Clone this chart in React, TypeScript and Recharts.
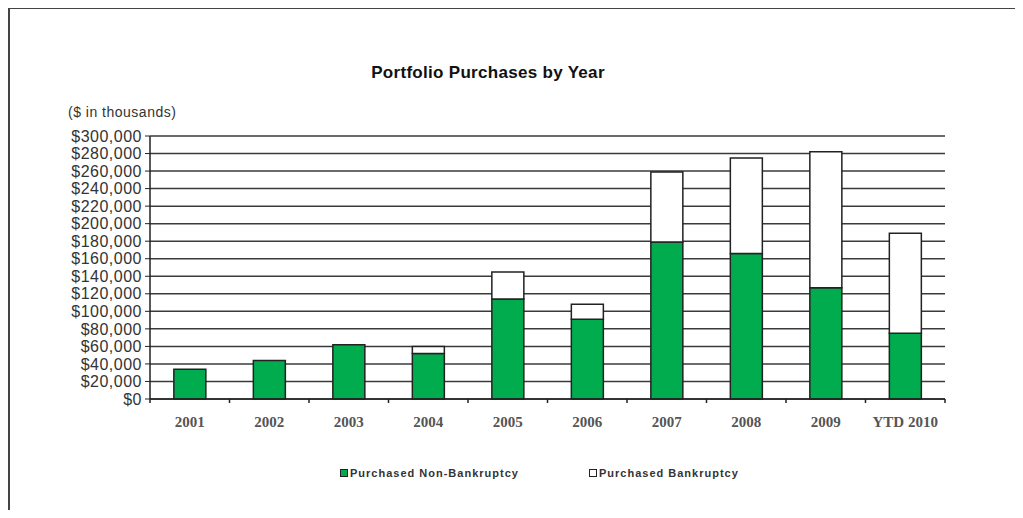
import React from 'react';
import { BarChart, Bar, XAxis, YAxis, CartesianGrid } from 'recharts';

// values in $ thousands
const years = ['2001', '2002', '2003', '2004', '2005', '2006', '2007', '2008', '2009', 'YTD 2010'];
const nonBankruptcy = [34000, 44000, 62000, 52000, 114000, 91000, 179000, 166000, 127000, 75000];
const bankruptcy = [0, 0, 0, 8000, 31000, 17000, 80000, 109000, 155000, 114000];
const yTicks = [0, 20000, 40000, 60000, 80000, 100000, 120000, 140000, 160000, 180000, 200000, 220000, 240000, 260000, 280000, 300000];

const seriesNames = ['Purchased Non-Bankruptcy', 'Purchased Bankruptcy'];
const GREEN = '#00AC4E';
const EDGE = '#222';

const data = years.map((y, i) => ({
  year: y,
  nonBk: nonBankruptcy[i],
  bk: bankruptcy[i],
}));

const fmt = (v: number) => '$' + v.toLocaleString('en-US');

const sans = '"Liberation Sans", Arial, sans-serif';

// category label + tick mark on the band edges (excel style)
const CategoryTick = (props: any) => {
  const { x, y, payload, index } = props;
  const half = payload && payload.offset ? payload.offset : 0;
  return (
    <g>
      <line x1={x - half} x2={x - half} y1={y} y2={y + 4} stroke={EDGE} strokeWidth={1.5} />
      {index === years.length - 1 && (
        <line x1={x + half} x2={x + half} y1={y} y2={y + 4} stroke={EDGE} strokeWidth={1.5} />
      )}
      <text
        x={x}
        y={y + 17}
        dy="0.71em"
        textAnchor="middle"
        fontFamily='"Liberation Serif", "Times New Roman", serif'
        fontSize={15}
        fontWeight="bold"
        fill="#555"
      >
        {payload.value}
      </text>
    </g>
  );
};

export default function App() {
  return (
    <div style={{ position: 'relative', width: 1007, height: 502, fontFamily: sans }}>
      <div
        style={{
          position: 'absolute',
          left: 0,
          top: -1,
          right: 0,
          bottom: 0,
          borderLeft: '2px solid #444',
          borderTop: '2px solid #444',
        }}
      />
      <div
        style={{
          position: 'absolute',
          left: 480,
          top: 55,
          transform: 'translateX(-50%)',
          fontSize: 17,
          fontWeight: 'bold',
          color: '#111',
          whiteSpace: 'nowrap',
          letterSpacing: 0.3,
        }}
      >
        Portfolio Purchases by Year
      </div>
      <div style={{ position: 'absolute', left: 60, top: 96, fontSize: 14, color: '#333', whiteSpace: 'nowrap', letterSpacing: 0.5 }}>
        ($ in thousands)
      </div>

      <BarChart
        width={1007}
        height={502}
        data={data}
        margin={{ top: 128, right: 70, bottom: 81, left: 62 }}
        barCategoryGap="30%"
      >
        <CartesianGrid vertical={false} stroke="#3a3a3a" strokeWidth={1.5} />
        <XAxis
          dataKey="year"
          height={30}
          axisLine={{ stroke: EDGE, strokeWidth: 1.5 }}
          tickLine={false}
          tickSize={0}
          tickMargin={0}
          interval={0}
          tick={<CategoryTick />}
        />
        <YAxis
          domain={[0, 300000]}
          ticks={yTicks}
          interval={0}
          width={80}
          tickFormatter={fmt}
          axisLine={{ stroke: EDGE, strokeWidth: 1.5 }}
          tickLine={{ stroke: EDGE }}
          tickSize={5}
          tickMargin={3}
          tick={{ fontSize: 16, fill: '#333', fontFamily: sans, letterSpacing: 0.5 }}
        />
        <YAxis
          yAxisId="right"
          orientation="right"
          domain={[0, 300000]}
          width={0}
          tick={false}
          tickLine={false}
          axisLine={{ stroke: EDGE, strokeWidth: 1.5 }}
        />
        <Bar dataKey="nonBk" name={seriesNames[0]} stackId="a" fill={GREEN} stroke={EDGE} strokeWidth={1.5} isAnimationActive={false} />
        <Bar dataKey="bk" name={seriesNames[1]} stackId="a" fill="#fff" stroke={EDGE} strokeWidth={1.5} isAnimationActive={false} />
      </BarChart>

      {seriesNames.map((name, i) => (
        <div
          key={name}
          style={{
            position: 'absolute',
            left: i === 0 ? 332 : 581,
            top: 459,
            display: 'flex',
            alignItems: 'center',
            fontSize: 11,
            fontWeight: 'bold',
            color: '#333',
            letterSpacing: 1,
            whiteSpace: 'nowrap',
          }}
        >
          <span
            style={{
              display: 'inline-block',
              width: 6,
              height: 6,
              border: '1px solid #222',
              background: i === 0 ? GREEN : '#fff',
              marginRight: 2,
            }}
          />
          {name}
        </div>
      ))}
    </div>
  );
}
